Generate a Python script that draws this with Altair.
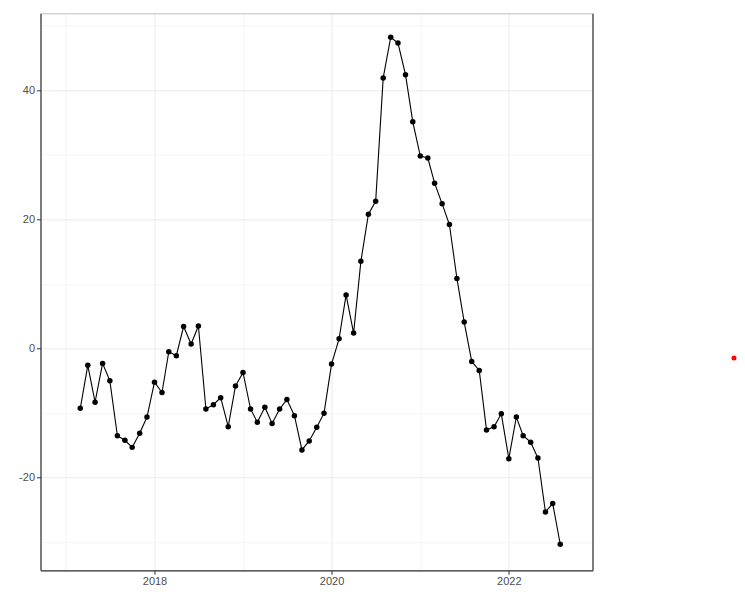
import altair as alt
import pandas as pd

# Monthly series, Mar 2017 - Aug 2022
months = pd.date_range("2017-03-01", periods=66, freq="MS").strftime("%Y-%m-%dT00:00:00").tolist()
values = [
    -9.25, -2.6, -8.3, -2.3, -5.0, -13.5, -14.2, -15.3, -13.1, -10.6,
    -5.2, -6.8, -0.5, -1.1, 3.4, 0.7, 3.5, -9.35, -8.7, -7.6, -12.1, -5.8,
    -3.7, -9.35, -11.4, -9.1, -11.6, -9.35, -7.9, -10.4, -15.7, -14.3, -12.2, -10.0,
    -2.4, 1.5, 8.3, 2.4, 13.5, 20.8, 22.8, 41.9, 48.2, 47.3, 42.4, 35.1,
    29.8, 29.5, 25.6, 22.4, 19.2, 10.85, 4.1, -2.0, -3.4, -12.6, -12.1, -10.1,
    -17.05, -10.6, -13.5, -14.5, -16.95, -25.3, -24.0, -30.3,
]
x_grid_years = [2017, 2018, 2019, 2020, 2021, 2022]
y_grid_values = [-30, -20, -10, 0, 10, 20, 30, 40, 50]
legend_key = ["a"]

df = pd.DataFrame({"date": months, "value": values, "key": "a"})

FONT = "Liberation Sans"
x_scale = alt.Scale(domain=[alt.DateTime(year=2016, month=9, date=18),
                            alt.DateTime(year=2022, month=12, date=12)], nice=False)
y_scale = alt.Scale(domain=[-34.33, 51.9], nice=False, zero=False)

x_axis = alt.Axis(
    values=[alt.DateTime(year=y, month=1, date=1) for y in x_grid_years],
    labelExpr="year(datum.value) % 2 == 0 ? timeFormat(datum.value, '%Y') : ''",
    title=None, orient="bottom",
    domainColor="#333333", domainWidth=1.2,
    tickColor="#333333", tickSize=4, tickWidth=1,
    tickOpacity=alt.ExprRef(expr="year(datum.value) % 2 == 0 ? 1 : 0"),
    gridColor=alt.ExprRef(expr="year(datum.value) % 2 == 0 ? '#EBEBEB' : '#F4F4F4'"),
    gridWidth=1,
    labelFont=FONT, labelFontSize=11, labelColor="#4D4D4D", labelPadding=1.5,
)
y_axis = alt.Axis(
    values=y_grid_values,
    labelExpr="datum.value % 20 == 0 ? '' + datum.value : ''",
    title=None, orient="left",
    domainColor="#333333", domainWidth=1.2,
    tickColor="#333333", tickSize=4, tickWidth=1,
    tickOpacity=alt.ExprRef(expr="datum.value % 20 == 0 ? 1 : 0"),
    gridColor=alt.ExprRef(expr="datum.value % 20 == 0 ? '#EBEBEB' : '#F4F4F4'"),
    gridWidth=1,
    labelFont=FONT, labelFontSize=11, labelColor="#4D4D4D", labelPadding=2,
)

base = alt.Chart(df)

line = base.mark_line(color="black", strokeWidth=1.1).encode(
    x=alt.X("date:T", scale=x_scale, axis=x_axis),
    y=alt.Y("value:Q", scale=y_scale, axis=y_axis),
)

points = base.mark_circle(color="black", size=30, opacity=1).encode(
    x=alt.X("date:T", scale=x_scale,
            axis=alt.Axis(orient="top", labels=False, ticks=False, grid=False,
                          domainColor="#CCCCCC", domainWidth=1, title=None)),
    y=alt.Y("value:Q", scale=y_scale,
            axis=alt.Axis(orient="right", labels=False, ticks=False, grid=False,
                          domainColor="#333333", domainWidth=1.2, title=None)),
)

legend_layer = base.mark_circle(size=25).encode(
    x=alt.X("date:T", axis=None),
    y=alt.Y("value:Q", axis=None),
    color=alt.Color(
        "key:N",
        scale=alt.Scale(domain=legend_key, range=["#FF0000"]),
        legend=alt.Legend(title=None, labelExpr="''", orient="none",
                          legendX=688.5, legendY=339.7, symbolType="circle",
                          symbolSize=25, symbolOpacity=1, padding=0),
    ),
).transform_filter("false")

chart = (
    alt.layer(line, points, legend_layer)
    .resolve_axis(x="independent", y="independent")
    .properties(
        width=552, height=557,
        autosize=alt.AutoSizeParams(type="none"),
        padding={"left": 32.5, "top": 5.3, "right": 144.5, "bottom": 30},
    )
    .configure_view(stroke=None)
    .configure(background="white")
)

chart.save("out.html", embed_options={"renderer": "svg", "actions": False})
